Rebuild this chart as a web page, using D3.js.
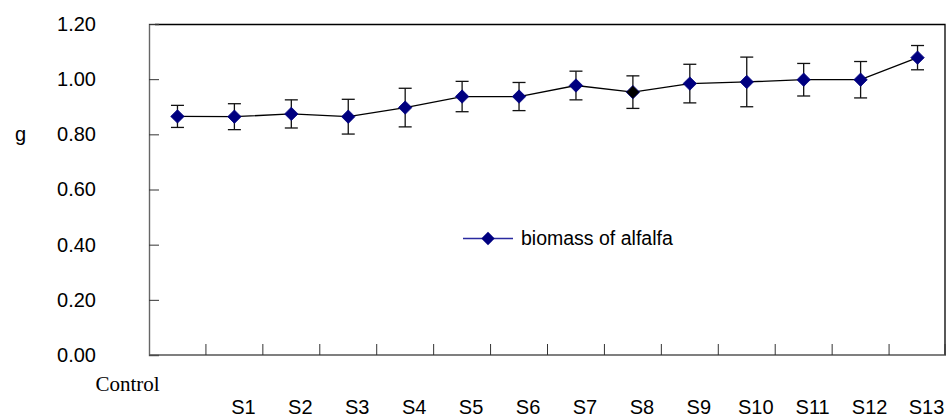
<!DOCTYPE html>
<html>
<head>
<meta charset="utf-8">
<script src="https://cdn.jsdelivr.net/npm/d3@7"></script>
<style>
  body { margin: 0; background: #fff; }
  svg { display: block; font-family: "Liberation Sans", Arial, sans-serif; }
</style>
</head>
<body>
<div id="chart"></div>
<script>
// data
const categories = ["Control", "S1", "S2", "S3", "S4", "S5", "S6", "S7", "S8", "S9", "S10", "S11", "S12", "S13"];
const biomass = [0.865, 0.864, 0.874, 0.864, 0.897, 0.937, 0.937, 0.977, 0.953, 0.984, 0.990, 0.998, 0.998, 1.078];
const errors = [0.040, 0.047, 0.051, 0.063, 0.070, 0.055, 0.051, 0.052, 0.059, 0.070, 0.090, 0.059, 0.066, 0.044];
const yTicks = [0, 0.2, 0.4, 0.6, 0.8, 1.0, 1.2];
const seriesName = "biomass of alfalfa";
const yTitle = "g";

const width = 948, height = 419;
const plotL = 149, plotR = 946, plotT = 24, plotB = 355;
const navy = "#000080";

const svg = d3.select("#chart").append("svg")
    .attr("width", width)
    .attr("height", height);

const x = d3.scaleBand().domain(categories).range([plotL, plotR]);
const y = d3.scaleLinear().domain([0, 1.2]).range([plotB, plotT]);

const diamond = r => `M0,${-r}L${r},0L0,${r}L${-r},0Z`;

// plot frame (top + right)
svg.append("path")
    .attr("d", `M${plotL + 6},${plotT + 0.5}H${plotR - 1}V${plotB}`)
    .attr("fill", "none")
    .attr("stroke", "#000")
    .attr("stroke-width", 1.3);

// y axis, ticks pointing inward
const yAxis = svg.append("g")
    .attr("transform", `translate(${plotL},0)`)
    .call(d3.axisLeft(y).tickValues(yTicks).tickFormat(d3.format(".2f")).tickSize(-10).tickPadding(53));
yAxis.select(".domain").attr("stroke", "#666").attr("stroke-width", 1.4);
yAxis.selectAll(".tick line").attr("stroke", "#333");
yAxis.selectAll(".tick text")
    .attr("font-size", 20)
    .attr("font-family", "'Liberation Sans', Arial, sans-serif")
    .attr("fill", "#000");

// axis title
svg.append("text")
    .attr("x", 15)
    .attr("y", y(0.8))
    .attr("dy", "0.32em")
    .attr("font-size", 20)
    .text(yTitle);

// x axis line + ticks at category boundaries
svg.append("line")
    .attr("x1", plotL).attr("x2", plotR)
    .attr("y1", plotB).attr("y2", plotB)
    .attr("stroke", "#555")
    .attr("stroke-width", 1.4);
svg.append("g")
    .selectAll("line")
    .data(categories.slice(1).concat(["end"]))
    .enter()
    .append("line")
    .attr("x1", d => d === "end" ? plotR - 1 : x(d))
    .attr("x2", d => d === "end" ? plotR - 1 : x(d))
    .attr("y1", plotB)
    .attr("y2", plotB - 11)
    .attr("stroke", "#333");

// x labels
svg.append("g")
    .selectAll("text")
    .data(categories)
    .enter()
    .append("text")
    .attr("x", (d, i) => i === 0 ? x(d) + x.bandwidth() / 2 - 50 : x(d) + x.bandwidth() / 2 + 9)
    .attr("y", (d, i) => i === 0 ? 391 : 414)
    .attr("text-anchor", "middle")
    .attr("font-family", (d, i) => i === 0 ? "'Liberation Serif', 'Times New Roman', serif" : null)
    .attr("font-size", (d, i) => i === 0 ? 21 : 20)
    .text(d => d);

const cx = (d, i) => x(categories[i]) + x.bandwidth() / 2;

// error bars
const eb = svg.append("g")
    .attr("stroke", "#111")
    .attr("stroke-width", 1.3)
    .selectAll("g")
    .data(biomass)
    .enter()
    .append("g");
eb.append("line")
    .attr("x1", cx).attr("x2", cx)
    .attr("y1", (d, i) => y(d + errors[i]))
    .attr("y2", (d, i) => y(d - errors[i]));
eb.append("line")
    .attr("x1", (d, i) => cx(d, i) - 6.5).attr("x2", (d, i) => cx(d, i) + 6.5)
    .attr("y1", (d, i) => y(d + errors[i])).attr("y2", (d, i) => y(d + errors[i]));
eb.append("line")
    .attr("x1", (d, i) => cx(d, i) - 6.5).attr("x2", (d, i) => cx(d, i) + 6.5)
    .attr("y1", (d, i) => y(d - errors[i])).attr("y2", (d, i) => y(d - errors[i]));

// series line
svg.append("path")
    .datum(biomass)
    .attr("fill", "none")
    .attr("stroke", "#000")
    .attr("stroke-width", 1.3)
    .attr("d", d3.line().x(cx).y(d => y(d)));

// markers (the S8 point shows a dark fill in the original)
svg.append("g")
    .selectAll("path")
    .data(biomass)
    .enter()
    .append("path")
    .attr("transform", (d, i) => `translate(${cx(d, i)},${y(d)})`)
    .attr("d", diamond(6.7))
    .attr("fill", (d, i) => categories[i] === "S8" ? "#000" : navy)
    .attr("stroke", navy)
    .attr("stroke-width", 0.8);

// legend
const legend = svg.append("g").attr("transform", "translate(463,238.5)");
legend.append("line")
    .attr("x1", 0).attr("x2", 50)
    .attr("stroke", "#2a2aa0")
    .attr("stroke-width", 1.3);
legend.append("path")
    .attr("transform", "translate(25,0)")
    .attr("d", diamond(6.7))
    .attr("fill", navy);
legend.append("text")
    .attr("x", 58)
    .attr("dy", "0.35em")
    .attr("font-size", 19.5)
    .text(seriesName);
</script>
</body>
</html>
